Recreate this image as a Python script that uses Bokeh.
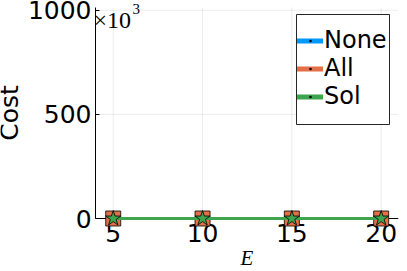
from bokeh.plotting import figure
from bokeh.models import Range1d, FixedTicker, Legend, LegendItem, BoxAnnotation, Label
from bokeh.embed import file_html
from bokeh.resources import INLINE

# ---- data ----
E = [5, 10, 15, 20]
cost_none = [0, 0, 0, 0]
cost_all = [0, 0, 0, 0]
cost_sol = [0, 0, 0, 0]
series_names = ["None", "All", "Sol"]
x_ticks = [5, 10, 15, 20]
y_ticks = [0, 500, 1000]

# axis extents (data units)
X_MIN, X_MAX = 4.01, 20.97
Y_MIN, Y_MAX = 0, 1013

BLUE = "#009AFA"
ORANGE = "#E36F47"
GREEN = "#3EA44E"
colors = [BLUE, ORANGE, GREEN]
NAN = float("nan")

# The frame covers the canvas to the left, top and bottom edges; both axes are
# fixed in data space, so markers can overhang them and labels are not clipped.
p = figure(width=407, height=271, output_backend="svg", toolbar_location=None,
           x_range=Range1d(-1.31, X_MAX), y_range=Range1d(-254.4, 1046.6),
           min_border_left=0, min_border_right=9, min_border_top=0, min_border_bottom=0,
           background_fill_color="white", border_fill_color="white")
p.outline_line_color = None
p.grid.visible = False

for ax in (p.xaxis[0], p.yaxis[0]):
    ax.axis_line_color = "black"
    ax.axis_line_width = 1
    ax.major_tick_in = 4
    ax.major_tick_out = 0
    ax.major_tick_line_color = "black"
    ax.minor_tick_line_color = None
    ax.major_label_text_font = "DejaVu Sans"
    ax.major_label_text_font_size = "25px"
    ax.major_label_text_color = "black"
    ax.level = "underlay"

p.xaxis.fixed_location = Y_MIN
p.yaxis.fixed_location = X_MIN
p.xaxis.bounds = (X_MIN, X_MAX)
p.yaxis.bounds = (Y_MIN, Y_MAX)

p.xaxis.ticker = FixedTicker(ticks=x_ticks)
p.yaxis.ticker = FixedTicker(ticks=y_ticks)
p.xaxis.major_label_standoff = 5
p.yaxis.major_label_standoff = 4

p.xaxis.axis_label = "E"
p.xaxis.axis_label_text_font = "Liberation Serif"
p.xaxis.axis_label_text_font_style = "italic"
p.xaxis.axis_label_text_font_size = "21px"
p.xaxis.axis_label_text_color = "black"
p.xaxis.axis_label_standoff = 1

p.yaxis.axis_label = "Cost"
p.yaxis.axis_label_text_font = "DejaVu Sans"
p.yaxis.axis_label_text_font_style = "normal"
p.yaxis.axis_label_text_font_size = "25px"
p.yaxis.axis_label_text_color = "black"
p.yaxis.axis_label_standoff = 1

# faint grid, limited to the axes' extent
p.segment(x0=x_ticks, y0=[Y_MIN] * len(x_ticks), x1=x_ticks, y1=[Y_MAX] * len(x_ticks),
          line_color="black", line_alpha=0.08, line_width=1, level="underlay")
p.segment(x0=[X_MIN] * len(y_ticks), y0=y_ticks, x1=[X_MAX] * len(y_ticks), y1=y_ticks,
          line_color="black", line_alpha=0.08, line_width=1, level="underlay")

# series
p.line(E, cost_none, line_color=BLUE, line_width=3)
p.scatter(E, cost_none, marker="circle", size=12, fill_color=BLUE, line_color="black", line_alpha=0.8)
p.line(E, cost_all, line_color=ORANGE, line_width=3)
p.scatter(E, cost_all, marker="square", size=15, fill_color=ORANGE, line_color="black", line_alpha=0.8)
p.line(E, cost_sol, line_color=GREEN, line_width=3)
p.scatter(E, cost_sol, marker="star", size=16, fill_color=GREEN, line_color="black", line_alpha=0.8)

# x10^3 multiplier
p.add_layout(Label(x=93, y=19, x_units="canvas", y_units="canvas", text="\u00d710",
                   text_font="Liberation Serif", text_font_size="24px",
                   text_baseline="alphabetic", text_color="black"))
p.add_layout(Label(x=132, y=8, x_units="canvas", y_units="canvas", text="3",
                   text_font="Liberation Serif", text_font_size="15px",
                   text_baseline="alphabetic", text_color="black"))

# legend box
p.add_layout(BoxAnnotation(left=296, right=389, top=14, bottom=124,
                           left_units="canvas", right_units="canvas",
                           top_units="canvas", bottom_units="canvas",
                           fill_color="white", fill_alpha=1.0,
                           line_color="black", line_alpha=0.85, line_width=1))

items = []
for name, col in zip(series_names, colors):
    lr = p.line(x=[NAN], y=[NAN], line_color=col, line_width=5, line_cap="round")
    dr = p.scatter(x=[NAN], y=[NAN], marker="dot", size=3, fill_color="black", line_color="black")
    items.append(LegendItem(label=name, renderers=[lr, dr]))

# legend location is relative to the frame's bottom-left corner (canvas bottom)
legend = Legend(items=items, location=(297, 161), orientation="vertical",
                border_line_alpha=0, background_fill_alpha=0,
                padding=0, spacing=0, margin=0,
                glyph_width=26, glyph_height=27, label_height=27, label_standoff=1,
                label_text_font="DejaVu Sans", label_text_font_size="24px",
                label_text_color="black")
p.add_layout(legend)

open("out.html", "w").write(file_html(p, INLINE))
